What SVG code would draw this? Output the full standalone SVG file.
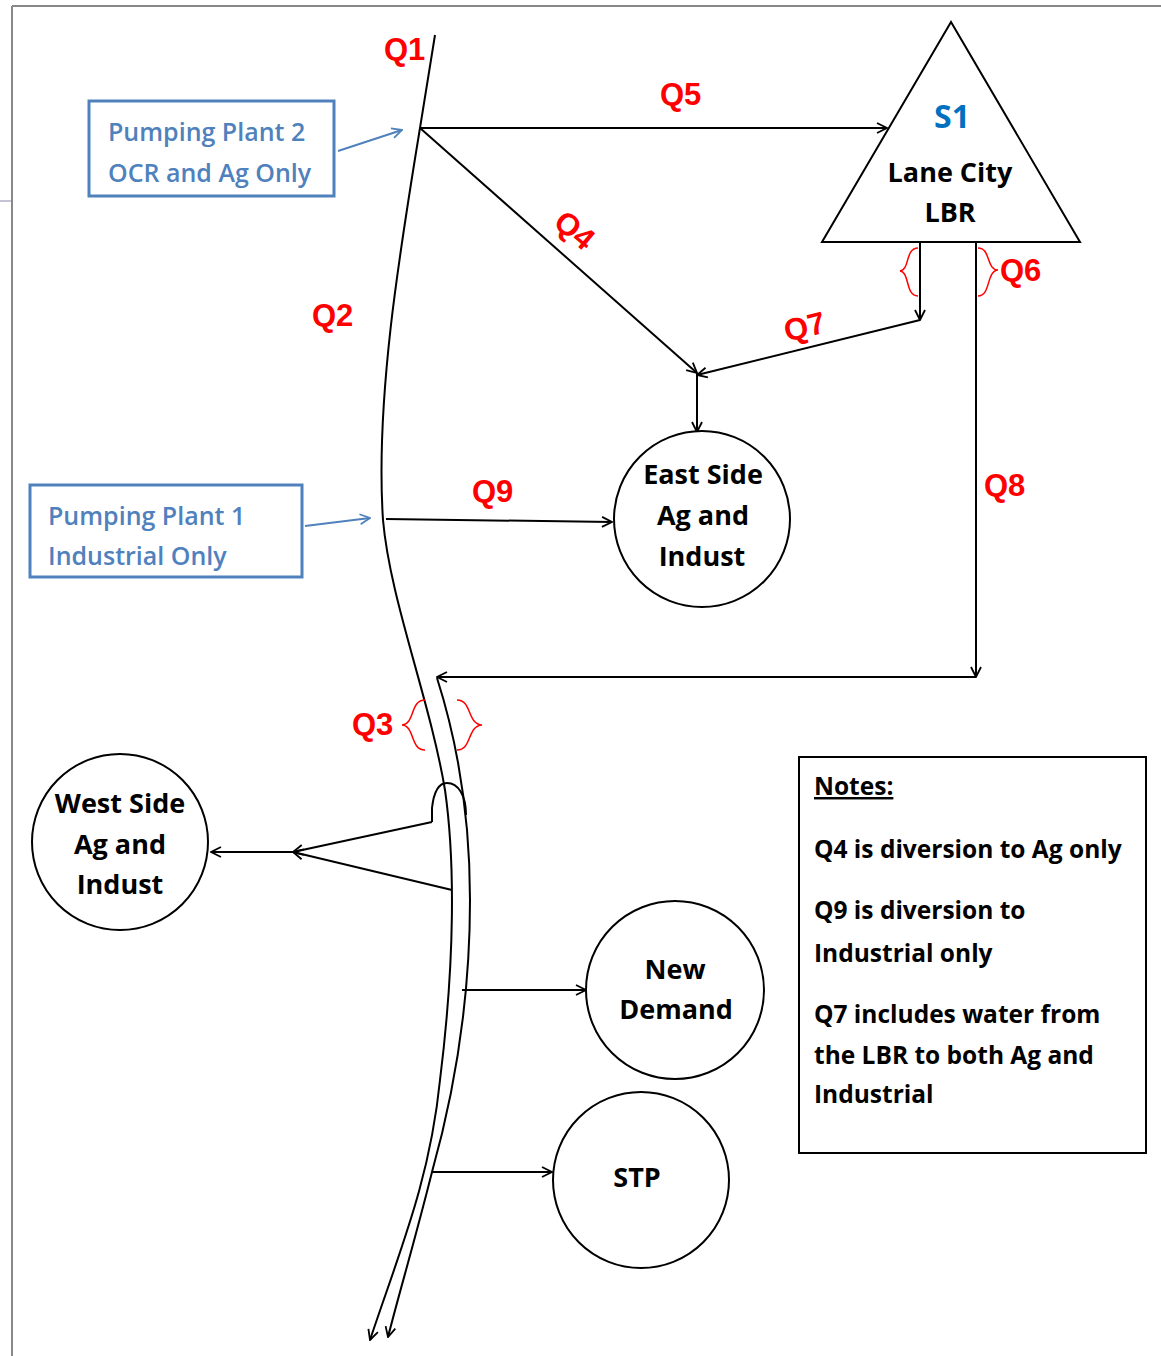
<svg xmlns="http://www.w3.org/2000/svg" width="1161" height="1356" viewBox="0 0 1161 1356">
<style>
.ln{fill:none;stroke:#000;stroke-width:2}
.bl{fill:none;stroke:#4f81bd;stroke-width:2}
.br{fill:none;stroke:#ff0000;stroke-width:1.5}
.node{fill:#fff;stroke:#000;stroke-width:2}
.t{font-family:"Open Sans","Liberation Sans",sans-serif;font-weight:bold;font-size:27px;fill:#000;text-anchor:middle}
.q{font-family:"Liberation Sans",Arial,sans-serif;font-weight:bold;font-size:31px;fill:#ff0000}
.pb{font-family:"Open Sans","Liberation Sans",sans-serif;font-weight:600;font-size:25px;fill:#4f81bd}
.n{font-family:"Open Sans","Liberation Sans",sans-serif;font-weight:bold;font-size:24.5px;fill:#000}
</style>
<defs>
<marker id="a" viewBox="0 0 12 12" refX="11" refY="6" markerWidth="12" markerHeight="12" markerUnits="userSpaceOnUse" orient="auto"><path d="M1,1 L11,6 L1,11" fill="none" stroke="#000" stroke-width="1.8"/></marker>
<marker id="ab" viewBox="0 0 12 12" refX="11" refY="6" markerWidth="12" markerHeight="12" markerUnits="userSpaceOnUse" orient="auto"><path d="M1,1 L11,6 L1,11" fill="none" stroke="#4f81bd" stroke-width="1.8"/></marker>
</defs>
<rect width="1161" height="1356" fill="#fff"/>
<g id="frame">
<path d="M12,6 H1161 M12,6 V1356" fill="none" stroke="#888" stroke-width="2"/>
<path d="M0,201 H12" fill="none" stroke="#88a" stroke-width="1"/>
</g>
<g id="connectors">
<path class="ln" d="M435,35 L420,128 C400,250 375,400 383,520 C390,600 430,700 445,790 C455,860 455,960 440,1080 C430,1180 400,1250 370,1340" marker-end="url(#a)"/>
<path class="ln" d="M437,678 C460,750 470,820 470,900 C470,1000 455,1090 432,1172 C415,1240 400,1290 388,1337" marker-end="url(#a)"/>
<path class="ln" d="M432,822 L432,808 C434,790 440,783 447,783 C458,783 466,795 466,815"/>
<path class="ln" d="M420,128 H887" marker-end="url(#a)"/>
<path class="ln" d="M420,128 L697,373" marker-end="url(#a)"/>
<path class="ln" d="M697,373 V432" marker-end="url(#a)"/>
<path class="ln" d="M920,242 V320" marker-end="url(#a)"/>
<path class="ln" d="M920,320 L697,375" marker-end="url(#a)"/>
<path class="ln" d="M976,242 V677" marker-end="url(#a)"/>
<path class="ln" d="M976,677 H437" marker-end="url(#a)"/>
<path class="ln" d="M386,519 L612,522" marker-end="url(#a)"/>
<path class="ln" d="M432,822 L293,852" marker-end="url(#a)"/>
<path class="ln" d="M452,890 L293,852" marker-end="url(#a)"/>
<path class="ln" d="M293,852 H211" marker-end="url(#a)"/>
<path class="ln" d="M462,990 H586" marker-end="url(#a)"/>
<path class="ln" d="M432,1172 H552" marker-end="url(#a)"/>
<path class="bl" d="M338,151 L402,130" marker-end="url(#ab)"/>
<path class="bl" d="M305,526 L370,518" marker-end="url(#ab)"/>
</g>
<g id="braces">
<path class="br" d="M918,248 C905,248 910,270 900,271 C910,272 905,296 918,296"/>
<path class="br" d="M978,248 C991,248 986,270 998,270 C986,271 991,296 978,296"/>
<path class="br" d="M425,700 C410,700 415,724 402,725 C415,726 410,750 425,750"/>
<path class="br" d="M457,700 C472,700 467,724 482,725 C467,726 472,750 457,750"/>
</g>
<g id="labels">
<text class="q" x="384" y="60">Q1</text>
<text class="q" x="660" y="105">Q5</text>
<text class="q" x="0" y="0" transform="translate(552,225) rotate(40)">Q4</text>
<text class="q" x="312" y="326">Q2</text>
<text class="q" x="0" y="0" transform="translate(787,342) rotate(-14)">Q7</text>
<text class="q" x="1000" y="281">Q6</text>
<text class="q" x="472" y="502">Q9</text>
<text class="q" x="984" y="496">Q8</text>
<text class="q" x="352" y="735">Q3</text>
</g>
<g id="pp2">
<rect x="89" y="101" width="245" height="95" fill="#fff" stroke="#4f81bd" stroke-width="3"/>
<text class="pb" x="108" y="141">Pumping Plant 2</text>
<text class="pb" x="108" y="182">OCR and Ag Only</text>
</g>
<g id="pp1">
<rect x="30" y="485" width="272" height="92" fill="#fff" stroke="#4f81bd" stroke-width="3"/>
<text class="pb" x="48" y="525">Pumping Plant 1</text>
<text class="pb" x="48" y="565">Industrial Only</text>
</g>
<g id="s1">
<polygon class="node" points="951,22 822,242 1080,242"/>
<text class="t" x="952" y="128" style="fill:#0070c0;font-size:32px">S1</text>
<text class="t" x="950" y="182">Lane City</text>
<text class="t" x="950" y="222">LBR</text>
</g>
<g id="east">
<circle class="node" cx="702" cy="519" r="88"/>
<text class="t" x="703" y="484">East Side</text>
<text class="t" x="703" y="525">Ag and</text>
<text class="t" x="702" y="566">Indust</text>
</g>
<g id="west">
<circle class="node" cx="120" cy="842" r="88"/>
<text class="t" x="120" y="813">West Side</text>
<text class="t" x="120" y="854">Ag and</text>
<text class="t" x="120" y="894">Indust</text>
</g>
<g id="newdemand">
<circle class="node" cx="675" cy="990" r="89"/>
<text class="t" x="675" y="979">New</text>
<text class="t" x="676" y="1019">Demand</text>
</g>
<g id="stp">
<circle class="node" cx="641" cy="1180" r="88"/>
<text class="t" x="637" y="1187">STP</text>
</g>
<g id="notes">
<rect x="799" y="757" width="347" height="396" fill="#fff" stroke="#000" stroke-width="2"/>
<text class="n" x="814" y="795" text-decoration="underline">Notes:</text>
<text class="n" x="814" y="858">Q4 is diversion to Ag only</text>
<text class="n" x="814" y="919">Q9 is diversion to</text>
<text class="n" x="814" y="962">Industrial only</text>
<text class="n" x="814" y="1023">Q7 includes water from</text>
<text class="n" x="814" y="1064">the LBR to both Ag and</text>
<text class="n" x="814" y="1103">Industrial</text>
</g>
</svg>
